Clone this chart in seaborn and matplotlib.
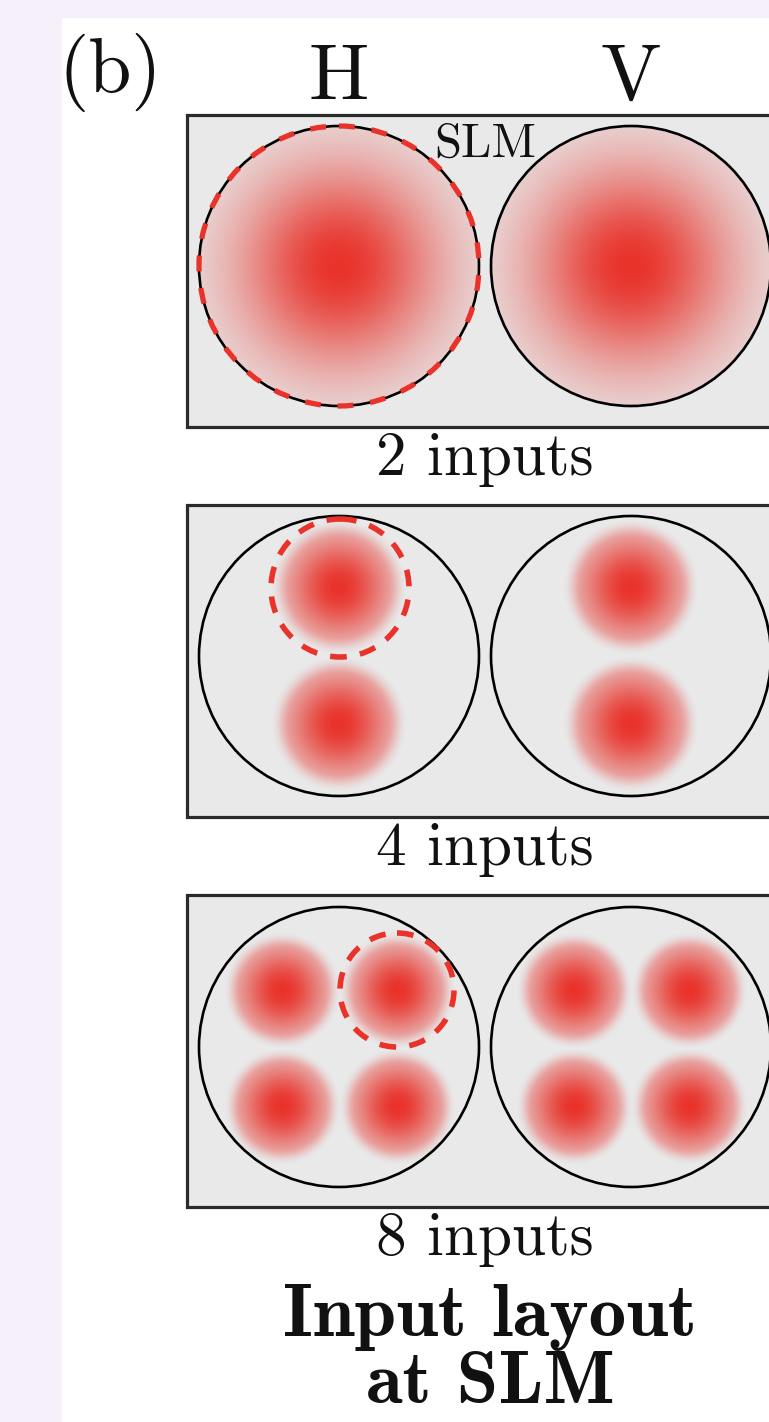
import numpy as np
import matplotlib
matplotlib.use("Agg")
import matplotlib.pyplot as plt
from matplotlib.patches import Rectangle, Circle
import seaborn as sns
import pandas as pd

sns.set_theme(style="white")

# ---------------- data ----------------
layout_labels = ["2 inputs", "4 inputs", "8 inputs"]
pol_labels = ["H", "V"]
pol_x = [339, 631]                 # centres of H / V pupils
panel_top = [115, 505, 895]        # top of each SLM panel
panel_cy = [266, 656, 1047]        # pupil centre row of each panel
pupil_r = 140
spot_radius = [140, 64, 55]
# spot offsets (dx, dy) inside each pupil, per layout
spot_offsets = [
    [(0, 0)],
    [(0, -69), (0, 68)],
    [(-57, -56), (58, -56), (-57, 60), (58, 60)],
]
# highlighted (dashed) input: (panel, cx, cy, r)
highlight = [(0, 339, 266, 140), (1, 340, 588, 69), (2, 397, 990, 57)]
red = "#e8322a"

W, H = 769, 1422
fig = plt.figure(figsize=(W / 100, H / 100), dpi=100)
fig.patch.set_facecolor("#f5f0fa")
ax = fig.add_axes([0, 0, 1, 1])
ax.set_xlim(0, W)
ax.set_ylim(H, 0)
ax.set_axis_off()

ax.add_patch(Rectangle((62, 18), W, H, facecolor="white", edgecolor="none", zorder=0))

rgb = np.array(matplotlib.colors.to_rgb(red))

def spot_image(R, big):
    n = 240
    ext = R * 1.15
    g = np.linspace(-ext, ext, n)
    X, Y = np.meshgrid(g, g)
    r = np.sqrt(X ** 2 + Y ** 2) / R
    if big:
        a = np.exp(-1.9 * r ** 2)
    else:
        a = np.exp(-1.4 * r ** 2)
        edge = np.clip((r - 0.78) / 0.3, 0, 1)
        a = a * (1 - edge * edge * (3 - 2 * edge))
    img = np.zeros((n, n, 4))
    img[..., :3] = rgb
    img[..., 3] = np.clip(a, 0, 1)
    return img, ext

rows = []
for p, (top, cy) in enumerate(zip(panel_top, panel_cy)):
    ax.add_patch(Rectangle((187, top), 700, 312, facecolor="#e9e9e9",
                           edgecolor="#2a2a2a", lw=2.3, zorder=1))
    R = spot_radius[p]
    img, ext = spot_image(R, p == 0)
    for px in pol_x:
        circ = Circle((px, cy), pupil_r, facecolor="none", edgecolor="black",
                      lw=1.9, zorder=3)
        ax.add_patch(circ)
        for dx, dy in spot_offsets[p]:
            sx, sy = px + dx, cy + dy
            im = ax.imshow(img, extent=(sx - ext, sx + ext, sy + ext, sy - ext),
                           interpolation="bilinear", zorder=2)
            im.set_clip_path(circ)
            rows.append({"x": sx, "y": sy})
    ax.text(485, top + 360, layout_labels[p], ha="center", va="baseline",
            fontsize=44, family="cmr10", color="#111111")

df = pd.DataFrame(rows)
sns.scatterplot(data=df, x="x", y="y", ax=ax, color=red, s=6, linewidth=0,
                zorder=2.5, legend=False)
ax.set_xlim(0, W)
ax.set_ylim(H, 0)
ax.set_axis_off()

for p, cx, cy, r in highlight:
    lw = 3.8 if p == 0 else 4.0
    dash = (3.0, 3.2) if p == 0 else (3.0, 2.4)
    ax.add_patch(Circle((cx, cy), r, facecolor="none", edgecolor=red, lw=lw,
                        linestyle=(0, dash), zorder=4))

for lab, x in zip(pol_labels, pol_x):
    ax.text(x, 100, lab, ha="center", va="baseline", fontsize=58,
            family="cmr10", color="#111111")
ax.text(110, 92, "(b)", ha="center", va="baseline", fontsize=56,
        family="cmr10", color="#111111")
ax.text(485, 157, "SLM", ha="center", va="baseline", fontsize=35,
        family="cmr10", color="#111111", zorder=5)

ax.text(490, 1336, "Input layout", ha="center", va="baseline", fontsize=54,
        family="cmb10", color="#111111")
ax.text(490, 1403, "at SLM", ha="center", va="baseline", fontsize=54,
        family="cmb10", color="#111111")

fig.savefig("out.png", dpi=100, facecolor=fig.get_facecolor())
